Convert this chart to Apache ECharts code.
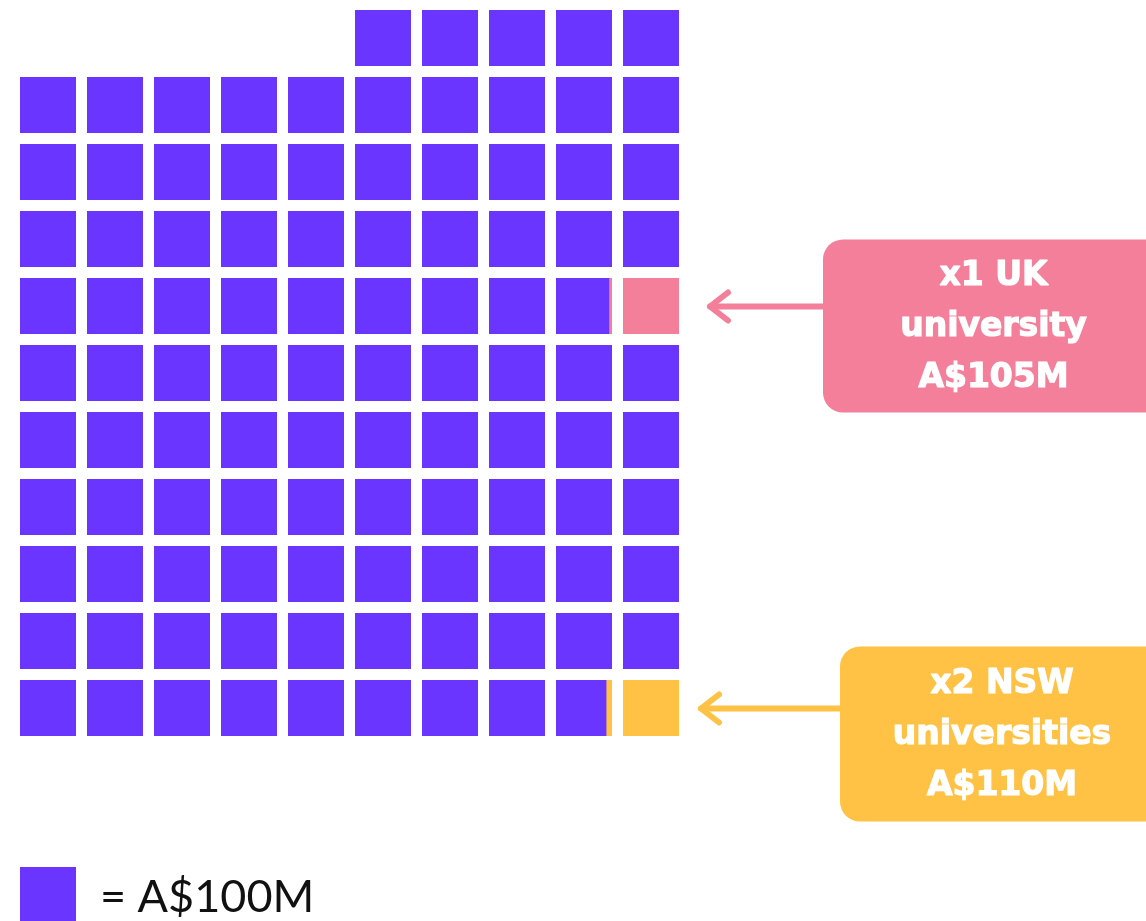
<!DOCTYPE html>
<html>
<head>
<meta charset="utf-8">
<script src="https://cdn.jsdelivr.net/npm/echarts@6/dist/echarts.min.js"></script>
<style>
  html, body { margin: 0; padding: 0; background: #fff; }
  #chart { width: 1146px; height: 921px; }
</style>
</head>
<body>
<div id="chart"></div>
<script>
// one square = A$100M
const unitValue = 100;
const totalSquares = 105;
const perRow = 10;

// callouts: which square (reading order) and the value it stands for
const calloutLabels = ["x1 UK\nuniversity", "x2 NSW\nuniversities"];
const calloutValues = [105, 110];
const calloutSquares = [44, 104];

const colors = { base: "#6935FF", callout: ["#F47F9A", "#FFC244"] };

// layout for the callout boxes (pixels)
const calloutLayout = [
  { tipGap: 20, boxLeft: 823, boxTop: -67, boxHeight: 173 },
  { tipGap: 11, boxLeft: 840, boxTop: -62, boxHeight: 175 }
];

const pitch = 67;
const cellSize = 56;

// build cells: last row partial row sits on top, right aligned
const offset = (perRow - (totalSquares % perRow)) % perRow;
const rows = Math.ceil(totalSquares / perRow);
const cells = [];
for (let i = 0; i < totalSquares; i++) {
  const pos = i + offset;
  const ci = calloutSquares.indexOf(i);
  const frac = ci >= 0 ? (calloutValues[ci] - unitValue) / unitValue : 0;
  cells.push([pos % perRow, Math.floor(pos / perRow), ci, frac]);
}

const chart = echarts.init(document.getElementById("chart"));

function renderItem(params, api) {
  const col = api.value(0), row = api.value(1), ci = api.value(2), frac = api.value(3);
  const p0 = api.coord([col, row]);
  const p1 = api.coord([col + 1, row + 1]);
  const w = (p1[0] - p0[0]) * cellSize / pitch;
  const h = (p1[1] - p0[1]) * cellSize / pitch;
  const gap = (p1[0] - p0[0]) - w;
  const fill = ci >= 0 ? colors.callout[ci] : colors.base;
  const children = [{
    type: "rect",
    shape: { x: p0[0], y: p0[1], width: w, height: h },
    style: { fill: fill }
  }];
  if (frac > 0) {
    // the extra fraction sits on the right edge of the previous square
    const sw = frac * w;
    children.push({
      type: "rect",
      z2: 10,
      shape: { x: p0[0] - gap - sw, y: p0[1], width: sw, height: h },
      style: { fill: fill }
    });
  }
  return { type: "group", children: children };
}

chart.setOption({
  animation: false,
  backgroundColor: "#ffffff",
  grid: { left: 20, top: 10, width: perRow * pitch, height: rows * pitch },
  xAxis: { type: "value", min: 0, max: perRow, show: false },
  yAxis: { type: "value", min: 0, max: rows, inverse: true, show: false },
  series: [{
    type: "custom",
    renderItem: renderItem,
    data: cells,
    silent: true
  }]
});

// callouts and key
const graphics = [];
calloutSquares.forEach((sq, k) => {
  const cell = cells[sq];
  const pt = chart.convertToPixel({ gridIndex: 0 }, [perRow, cell[1] + 0.5]);
  const lay = calloutLayout[k];
  const y = pt[1] - (pitch - cellSize) / 2 + 0.5;
  const tipX = pt[0] + lay.tipGap;
  const color = colors.callout[k];
  const boxTop = y + lay.boxTop;
  graphics.push({
    type: "rect",
    shape: { x: lay.boxLeft, y: boxTop, width: 1146 - lay.boxLeft + 20, height: lay.boxHeight, r: 20 },
    style: { fill: color }
  });
  graphics.push({
    type: "polyline",
    shape: { points: [[lay.boxLeft, y], [tipX, y]] },
    style: { stroke: color, lineWidth: 6, lineCap: "round" }
  });
  graphics.push({
    type: "polyline",
    shape: { points: [[tipX + 18, y - 14], [tipX, y], [tipX + 18, y + 14]] },
    style: { stroke: color, lineWidth: 6, lineCap: "round", lineJoin: "round", fill: null }
  });
  graphics.push({
    type: "text",
    x: lay.boxLeft + (1146 - lay.boxLeft) / 2 + 9,
    y: boxTop + lay.boxHeight / 2 + 1,
    style: {
      text: calloutLabels[k] + "\nA$" + calloutValues[k] + "M",
      fill: "#ffffff",
      font: "bold 33px 'DejaVu Sans'",
      align: "center",
      verticalAlign: "middle",
      lineHeight: 51,
      stroke: "#ffffff",
      lineWidth: 1.2
    }
  });
});

graphics.push({
  type: "rect",
  shape: { x: 20, y: 867, width: cellSize, height: cellSize },
  style: { fill: colors.base }
});
graphics.push({
  type: "text",
  x: 100,
  y: 897,
  style: {
    text: "= A$" + unitValue + "M",
    fill: "#111111",
    font: "45px Lato",
    verticalAlign: "middle"
  }
});

chart.setOption({ graphic: graphics });
</script>
</body>
</html>
